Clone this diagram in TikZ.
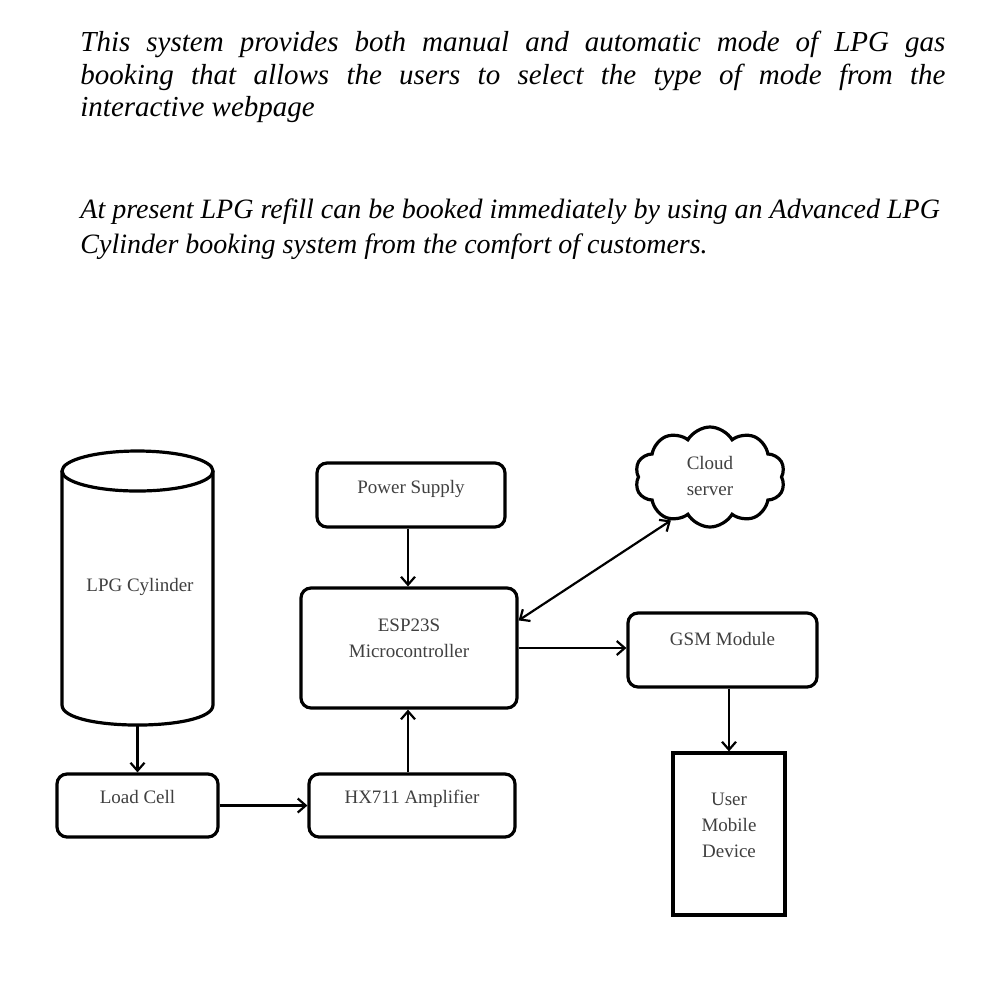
\documentclass[tikz,border=0pt]{standalone}
\usepackage{fontspec}
\setmainfont{Liberation Serif}
\usepackage{tikz}
\usetikzlibrary{shapes.symbols, arrows.meta, calc}

\tikzset{
    blk/.style={draw, rounded corners=5pt, line width=1.6pt, align=center,
        inner sep=0pt, text height=7pt, text=black!75,
        font=\fontsize{9.5}{13}\selectfont},
    conn/.style={line width=1.1pt, -{Straight Barb[length=4pt,width=7pt]}}
}

\begin{document}
\begin{tikzpicture}[x=0.5pt, y=-0.5pt]
    % Page area
    \path[fill=white, use as bounding box] (0,0) rectangle (1000,998);

    % Text above the diagram
    \node[anchor=north west, inner sep=0pt, text width=432.5pt, align=justify,
        font=\fontsize{14.5}{16.25}\selectfont\itshape] (intro) at (80,31)
        {This system provides both manual and automatic mode of LPG gas\linebreak
         booking that allows the users to select the type of mode from the\linebreak
         interactive webpage};
    \node[anchor=north west, inner sep=0pt, align=left,
        font=\fontsize{14}{17.5}\selectfont\itshape] (present) at (80,198)
        {At present LPG refill can be booked immediately by using an Advanced LPG\\
         Cylinder booking system from the comfort of customers.};

    % Draw the LPG cylinder
    \draw[line width=1.6pt] (137.5,471) ellipse[x radius=37.75pt, y radius=10pt];
    \draw[line width=1.6pt] (62,471) -- (62,705)
        .. controls (62,731.7) and (213,731.7) .. (213,705) -- (213,471);
    \coordinate (cylbot) at (137.5,725);
    \node[text=black!75, font=\fontsize{9.5}{13}\selectfont] (cyl) at (140,587) {LPG Cylinder};

    % Draw the blocks
    \node[blk, minimum width=94pt, minimum height=32pt, text depth=8.4pt] (ps) at (411,495) {Power Supply};
    \node[blk, minimum width=108pt, minimum height=60pt, text height=20pt, text depth=10.9pt] (esp) at (409,648) {ESP23S\\Microcontroller};
    \node[blk, minimum width=94.5pt, minimum height=37pt, text depth=11.4pt] (gsm) at (722.5,650) {GSM Module};
    \node[blk, rounded corners=0pt, minimum width=56pt, minimum height=81pt, text height=33pt, text depth=9.9pt] (user) at (729,834) {User\\Mobile\\Device};
    \node[blk, minimum width=80.5pt, minimum height=31.5pt, text depth=8.6pt] (load) at (137.5,805.5) {Load Cell};
    \node[blk, minimum width=103pt, minimum height=31.5pt, text depth=8.6pt] (hx) at (412,805.5) {HX711 Amplifier};
    \node[cloud, draw, line width=1.6pt, cloud puffs=10, cloud puff arc=120, aspect=1.5,
        minimum width=75pt, minimum height=50pt, inner sep=0pt, align=center,
        text height=20pt, text depth=1.9pt, text=black!75,
        font=\fontsize{9.5}{13}\selectfont] (cloud) at (710,477) {Cloud\\server};

    % Connectors
    \draw[conn] (ps.south -| 408,0) -- (esp.north -| 408,0);
    \draw[conn] (hx.north -| 408,0) -- (esp.south -| 408,0);
    \draw[conn] (cylbot) -- (load.north);
    \draw[conn] (load.east) -- (load.east -| hx.west);
    \draw[conn] (esp.east) -- (esp.east -| gsm.west);
    \draw[conn] (gsm.south -| user.north) -- (user.north);
    \draw[conn, {Straight Barb[length=4pt,width=7pt]}-{Straight Barb[length=4pt,width=7pt]}]
        ([yshift=-17pt]esp.north east) -- (cloud.228);

\end{tikzpicture}
\end{document}
